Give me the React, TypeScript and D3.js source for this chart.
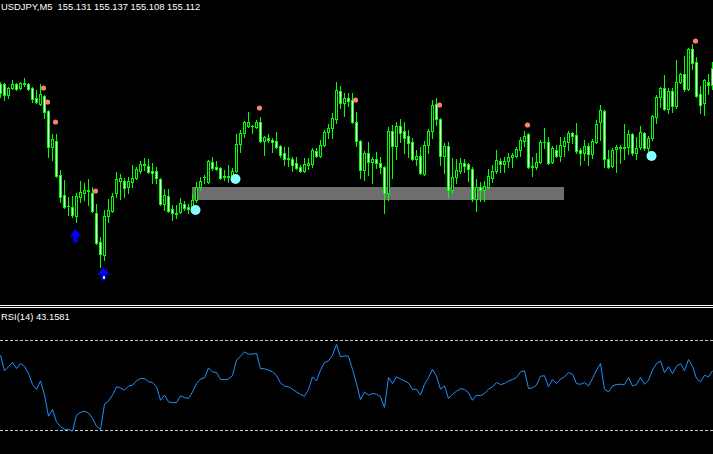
import React from "react";
import * as d3 from "d3";

// Price levels (chart units, higher = higher price)
const OPEN = [216,216,205,212,216,212,216,216,212,202,196,204,189,153,159,125,105,94,93,84,103,107,109,107,87,58,45,84,89,107,119,119,113,118,122,129,135,134,129,129,121,96,104,91,87,88,96,93,93,100,113,122,118,138,133,132,123,123,123,129,156,167,174,174,173,178,159,162,160,159,154,147,142,141,137,133,129,135,136,149,144,155,168,172,181,209,197,202,200,178,159,130,147,138,141,137,133,107,169,154,174,169,164,158,141,144,126,155,169,196,181,144,154,110,123,129,137,136,131,101,113,110,113,122,129,139,136,139,143,144,150,159,166,134,133,138,158,158,138,150,144,154,158,167,165,150,147,154,146,158,178,189,141,134,151,152,152,153,166,147,153,167,152,162,183,203,212,191,209,194,218,226,211,251,238,206,197,218,232];
const CLOSE = [207,205,212,216,211,217,217,211,201,198,206,188,153,161,124,103,93,93,85,104,108,110,110,89,57,46,84,90,104,121,122,112,119,122,131,136,136,128,127,122,96,105,89,87,86,97,92,91,100,113,119,123,139,132,131,122,124,124,129,156,167,178,178,173,178,159,163,160,158,153,145,141,141,135,132,129,136,137,150,144,155,168,172,182,210,197,202,199,178,159,130,147,138,141,137,133,107,169,154,174,167,162,157,141,144,127,155,169,195,181,144,154,110,123,130,137,134,131,101,113,110,114,124,129,140,136,139,143,145,151,160,164,133,133,138,158,157,137,152,144,155,159,167,164,149,147,154,146,159,176,190,141,133,150,153,153,153,166,147,152,168,152,162,184,203,212,191,209,194,218,226,211,251,237,204,195,220,215,215];
const HIGH = [218,217,213,220,217,218,222,217,213,210,216,205,190,166,166,130,120,103,104,107,119,117,121,113,96,63,90,101,107,128,126,122,123,135,133,139,142,141,137,133,122,111,111,95,95,102,99,96,106,118,123,125,140,143,139,133,130,135,132,166,170,179,188,175,180,183,164,166,162,168,155,153,153,143,143,135,142,142,152,152,160,170,176,187,218,214,207,207,207,188,160,149,158,143,148,143,134,173,175,178,181,178,170,162,150,153,159,171,200,202,182,157,158,142,141,142,141,137,133,121,118,119,131,135,150,142,143,147,147,153,163,169,167,143,147,160,172,163,154,155,163,163,169,168,177,152,160,157,161,180,195,190,150,152,155,155,176,170,167,163,174,168,164,185,205,213,225,212,212,240,227,244,252,256,243,214,221,226,238];
const LOW = [203,200,202,211,210,211,214,210,198,197,195,182,143,140,123,98,92,85,83,78,98,100,95,88,56,33,40,78,88,103,101,103,107,113,121,127,130,127,117,117,95,90,88,80,82,87,90,87,90,98,110,117,117,130,130,121,120,118,118,128,148,163,173,167,172,158,145,158,148,152,143,135,134,129,131,128,128,131,133,143,143,154,162,162,177,192,184,194,177,154,122,120,125,117,132,127,87,100,122,141,158,147,143,140,135,126,125,147,162,175,135,127,103,107,117,127,128,119,99,89,99,99,112,118,127,128,128,133,133,143,144,154,132,124,131,137,152,136,137,143,139,144,150,157,147,135,140,135,142,157,160,133,132,133,128,137,141,146,145,141,151,150,147,160,177,193,190,187,188,192,217,209,210,231,203,187,185,206,211];

const RSI = [63.0,56.1,57.9,59.8,57.1,59.3,58.1,54.9,50.0,47.8,51.6,45.3,35.9,38.9,33.4,31.2,30.1,30.0,29.3,36.4,37.6,38.1,37.4,34.9,31.5,30.0,41.3,42.6,45.3,49.0,48.5,47.5,49.3,49.7,51.6,52.7,52.7,51.2,50.9,49.0,43.0,45.3,42.3,41.9,42.0,45.0,44.2,43.8,46.7,50.4,52.4,53.0,57.4,55.6,55.3,52.2,52.2,52.4,53.9,60.8,62.6,64.5,63.5,63.5,63.8,57.1,57.0,56.4,55.6,54.1,50.7,49.3,49.0,47.9,46.7,45.6,44.8,47.8,53.4,51.6,56.4,59.8,60.5,63.0,67.8,62.3,62.7,62.6,56.7,50.4,43.3,46.7,45.3,46.0,45.7,44.5,39.8,53.1,50.4,53.4,52.4,51.6,50.7,47.8,47.9,45.3,50.1,53.1,56.7,53.7,47.9,49.4,43.8,45.7,47.0,48.2,47.8,46.3,43.0,45.3,45.0,46.0,47.9,49.0,50.9,50.0,50.4,51.6,52.2,53.1,55.6,56.1,48.2,48.5,49.7,53.7,53.9,49.0,52.2,50.4,52.4,53.4,55.3,54.6,50.4,50.1,50.9,49.3,52.7,56.4,59.3,47.9,46.7,49.4,50.0,50.1,50.0,53.1,49.3,50.0,53.1,50.1,51.9,56.4,59.3,60.4,55.3,57.9,54.9,58.1,59.3,56.1,61.1,58.1,52.7,51.2,54.1,53.4,56.1];
const RSI_LEVELS = [70, 30];

const SELL_DOT_IDX = [11, 12, 14, 24, 65, 89, 110, 132, 174];
const SELL_DOT_LEVEL = [212, 198, 178, 109, 192, 200, 195, 175, 259];
const BUY_DOT_IDX = [49, 59, 163];
const BUY_DOT_LEVEL = [90, 121, 144];
const ARROW_IDX = [19, 26];
const ARROW_LEVEL = [71, 33];
const ZONE_IDX = [48, 141];
const ZONE_LEVEL = [100, 113];

const TITLE = "USDJPY,M5  155.131 155.137 155.108 155.112";
const RSI_TITLE = "RSI(14) 43.1581";

const W = 713;
const H = 454;

export default function App() {
  const n = OPEN.length;
  const x = d3.scaleLinear().domain([0, 1]).range([0.5, 4.5]);
  const y = d3.scaleLinear().domain([0, 300]).range([300, 0]);
  const yr = d3.scaleLinear().domain([0, 100]).range([497, 272]);

  const rsiLine = d3
    .line<number>()
    .x((_, i) => x(i))
    .y((d) => yr(d));

  const green = "#00ff00";

  const candles = d3.range(n).map((i) => {
    const cx = x(i);
    const o = OPEN[i], c = CLOSE[i];
    const top = y(Math.max(o, c));
    const bot = y(Math.min(o, c));
    const bull = c > o;
    return (
      <g key={i}>
        <line x1={cx} x2={cx} y1={y(HIGH[i])} y2={y(LOW[i]) + 1} stroke={green} strokeWidth={1} />
        {bot - top < 1 ? (
          <line x1={cx - 1.5} x2={cx + 1.5} y1={top + 0.5} y2={top + 0.5} stroke={green} strokeWidth={1} />
        ) : (
          <rect
            x={cx - 1}
            y={top + 0.5}
            width={2}
            height={bot - top}
            fill={bull ? "#000" : "#fff"}
            stroke={green}
            strokeWidth={1}
          />
        )}
      </g>
    );
  });

  const arrowPath = (ax: number, ay: number) =>
    `M${ax},${ay} L${ax + 6},${ay + 7.5} L${ax + 2.2},${ay + 7.5} L${ax + 2.2},${ay + 13.5} L${ax - 2.2},${ay + 13.5} L${ax - 2.2},${ay + 7.5} L${ax - 6},${ay + 7.5} Z`;

  return (
    <svg
      width={W}
      height={H}
      style={{ position: "fixed", left: 0, top: 0, background: "#000", display: "block" }}
      shapeRendering="crispEdges"
    >
      <rect x={0} y={0} width={W} height={H} fill="#000" />
      <rect
        x={x(ZONE_IDX[0]) - 0.5}
        y={y(ZONE_LEVEL[1])}
        width={x(ZONE_IDX[1]) - x(ZONE_IDX[0])}
        height={y(ZONE_LEVEL[0]) - y(ZONE_LEVEL[1])}
        fill="#6e6e6e"
      />
      {candles}
      {SELL_DOT_IDX.map((k, i) => (
        <circle key={"s" + i} cx={x(k) - 1} cy={y(SELL_DOT_LEVEL[i])} r={2.6} fill="#fa8072" shapeRendering="auto" />
      ))}
      {BUY_DOT_IDX.map((k, i) => (
        <circle key={"b" + i} cx={x(k) - 1} cy={y(BUY_DOT_LEVEL[i])} r={5} fill="#88ffff" shapeRendering="auto" />
      ))}
      {ARROW_IDX.map((k, i) => (
        <g key={"a" + i}>
          <path d={arrowPath(x(k) - 1, y(ARROW_LEVEL[i]))} fill="#0000ff" shapeRendering="auto" />
          {i === 1 && (
            <rect x={x(k) - 2} y={y(ARROW_LEVEL[i]) + 9} width={2} height={3} fill="#aee6ff" />
          )}
        </g>
      ))}
      <text
        x={1}
        y={9.5}
        fill="#ffffff"
        fontFamily="'Liberation Sans', Arial, sans-serif"
        fontSize={9.4}
        style={{ whiteSpace: "pre" }}
      >
        {TITLE}
      </text>

      <line x1={0} x2={W} y1={305.5} y2={305.5} stroke="#ffffff" />
      <line x1={0} x2={W} y1={307.5} y2={307.5} stroke="#ffffff" />

      <text
        x={1}
        y={320}
        fill="#ffffff"
        fontFamily="'Liberation Sans', Arial, sans-serif"
        fontSize={9.4}
      >
        {RSI_TITLE}
      </text>
      {RSI_LEVELS.map((lv) => (
        <line
          key={lv}
          x1={0}
          x2={W}
          y1={Math.round(yr(lv)) + 0.5}
          y2={Math.round(yr(lv)) + 0.5}
          stroke="#c8c8c8"
          strokeDasharray="3,2"
        />
      ))}
      <path d={rsiLine(RSI) || ""} fill="none" stroke="#1e90ff" strokeWidth={1} shapeRendering="auto" />
    </svg>
  );
}
